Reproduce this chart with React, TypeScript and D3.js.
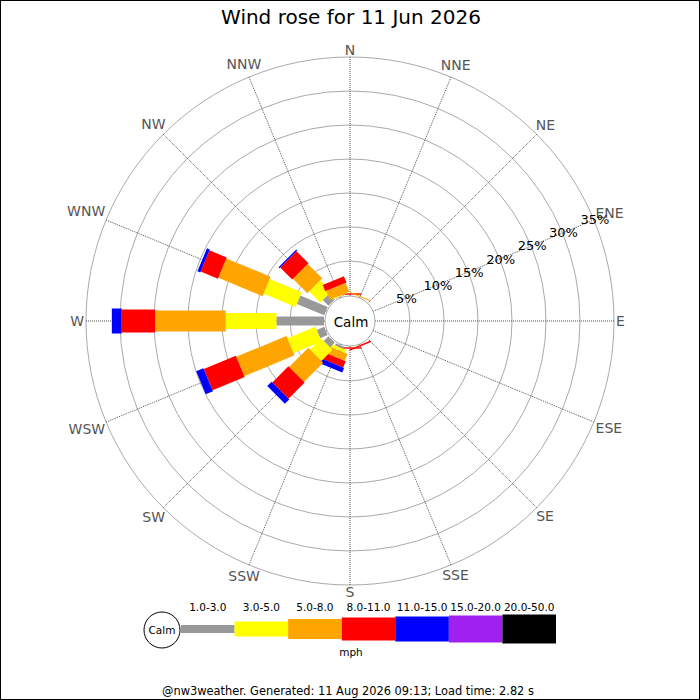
import React, { useRef, useEffect } from 'react';
import * as d3 from 'd3';

const directions = ['N', 'NNE', 'NE', 'ENE', 'E', 'ESE', 'SE', 'SSE', 'S', 'SSW', 'SW', 'WSW', 'W', 'WNW', 'NW', 'NNW'];
const speedClasses = ['1.0-3.0', '3.0-5.0', '5.0-8.0', '8.0-11.0', '11.0-15.0', '15.0-20.0', '20.0-50.0'];
const ringTicks = [5, 10, 15, 20, 25, 30, 35];

// % of time per direction (same order as directions), one list per speed class
const speed1to3 = [0, 0, 0, 0, 0, 0, 0, 0, 0, 0.35, 1.0, 1.2, 7.0, 4.35, 1.2, 0.1];
const speed3to5 = [0, 0, 0, 0, 0, 0, 0, 0, 0, 0.43, 2.3, 4.45, 7.45, 5.1, 2.3, 0.1];
const speed5to8 = [0.05, 0.15, 0, 0, 0, 0, 0, 0, 0.05, 1.1, 4.0, 8.0, 10.4, 7.05, 3.0, 1.4];
const speed8to11 = [0.2, 0, 0, 0, 0, 0, 0, 0.2, 0.2, 1.0, 3.35, 5.1, 4.9, 2.75, 2.5, 1.0];
const speed11to15 = [0, 0, 0, 0, 0, 0, 0, 0, 0, 0.73, 0.9, 1.15, 1.45, 0.45, 0.2, 0];
const speed15to20 = [0, 0, 0, 0, 0, 0, 0, 0, 0, 0, 0, 0, 0, 0, 0, 0];
const speed20to50 = [0, 0, 0, 0, 0, 0, 0, 0, 0, 0, 0, 0, 0, 0, 0, 0];

const series = [speed1to3, speed3to5, speed5to8, speed8to11, speed11to15, speed15to20, speed20to50];

const colours = ['#999999', '#ffff00', '#ffa500', '#ff0000', '#0000ff', '#a020f0', '#000000'];
const barWidths = [9, 16, 21, 23, 25, 27, 29];
const keyHeights = [8, 15, 20, 23, 25, 27, 29];

// rough DejaVu Sans advance widths (em) for the compass letters
const glyphEm: { [c: string]: number } = { N: 0.748, E: 0.632, S: 0.635, W: 0.989 };

const FONT = '"DejaVu Sans", Verdana, sans-serif';

const WindRose: React.FC = () => {
  const svgRef = useRef<SVGSVGElement>(null);

  useEffect(() => {
    d3.select(svgRef.current).selectAll('*').remove();

    const size = 700;
    const cx = 350;
    const cy = 321;
    const calmR = 25;

    const svg = d3.select(svgRef.current)
      .attr('width', size)
      .attr('height', size)
      .style('font-family', FONT);

    svg.append('rect')
      .attr('x', 0.5).attr('y', 0.5)
      .attr('width', size - 1).attr('height', size - 1)
      .attr('fill', 'white')
      .attr('stroke', 'black');

    svg.append('text')
      .attr('x', cx + 1).attr('y', 24)
      .attr('text-anchor', 'middle')
      .attr('font-size', 20)
      .text('Wind rose for 11 Jun 2026');

    const rScale = d3.scaleLinear().domain([0, 35]).range([26, 264]);
    const angle = (i: number) => (i * 22.5 * Math.PI) / 180;
    const px = (a: number, r: number) => cx + r * Math.sin(a);
    const py = (a: number, r: number) => cy - r * Math.cos(a);

    const g = svg.append('g');

    // rings
    g.selectAll('circle.ring')
      .data(ringTicks)
      .join('circle')
      .attr('class', 'ring')
      .attr('cx', cx).attr('cy', cy)
      .attr('r', d => rScale(d))
      .attr('fill', 'none')
      .attr('stroke', '#aaaaaa');

    // spokes
    g.selectAll('line.spoke')
      .data(directions)
      .join('line')
      .attr('class', 'spoke')
      .attr('x1', (d, i) => px(angle(i), calmR))
      .attr('y1', (d, i) => py(angle(i), calmR))
      .attr('x2', (d, i) => px(angle(i), rScale(35)))
      .attr('y2', (d, i) => py(angle(i), rScale(35)))
      .attr('stroke', '#555555')
      .attr('stroke-dasharray', '1,1');

    // direction labels
    const fs = 14;
    const labelR = (d: string, a: number) => {
      const w = d.split('').reduce((s, c) => s + glyphEm[c] * fs, 0);
      return 266 + (w / 2) * Math.abs(Math.sin(a)) + 5 * Math.abs(Math.cos(a));
    };
    g.selectAll('text.dir')
      .data(directions)
      .join('text')
      .attr('class', 'dir')
      .attr('x', (d, i) => px(angle(i), labelR(d, angle(i))))
      .attr('y', (d, i) => py(angle(i), labelR(d, angle(i))) - 0.5)
      .attr('text-anchor', 'middle')
      .attr('dominant-baseline', 'central')
      .attr('font-size', fs)
      .attr('fill', '#555555')
      .text(d => d);

    // stacked bars
    const table = directions.map((dir, i) => {
      const row: { [k: string]: any } = { dir };
      speedClasses.forEach((c, k) => { row[c] = series[k][i]; });
      return row;
    });
    const stacked = d3.stack<any>().keys(speedClasses)(table);

    directions.forEach((dir, i) => {
      const bar = g.append('g')
        .attr('transform', `translate(${cx},${cy}) rotate(${i * 22.5 - 90})`);
      stacked.forEach((layer, k) => {
        const [y0, y1] = layer[i];
        if (y1 - y0 <= 0) return;
        bar.append('rect')
          .attr('x', rScale(y0))
          .attr('y', -barWidths[k] / 2)
          .attr('width', rScale(y1) - rScale(y0))
          .attr('height', barWidths[k])
          .attr('fill', colours[k]);
      });
    });

    // calm circle
    g.append('circle')
      .attr('cx', cx).attr('cy', cy).attr('r', calmR)
      .attr('fill', 'white')
      .attr('stroke', '#aaaaaa');
    g.append('text')
      .attr('x', cx + 1).attr('y', cy + 1)
      .attr('text-anchor', 'middle')
      .attr('dominant-baseline', 'central')
      .attr('font-size', 13.5)
      .text('Calm');

    // ring labels along ENE
    const labelA = (67.5 * Math.PI) / 180;
    g.selectAll('text.ringlab')
      .data(ringTicks)
      .join('text')
      .attr('class', 'ringlab')
      .attr('x', d => px(labelA, rScale(d)) + 1)
      .attr('y', d => py(labelA, rScale(d)))
      .attr('text-anchor', 'middle')
      .attr('dominant-baseline', 'central')
      .attr('font-size', 13)
      .attr('fill', 'black')
      .text(d => `${d}%`);

    // key
    const keyX = d3.scaleBand().domain(speedClasses).range([181, 556]);
    const keyY = 629;
    const key = svg.append('g');
    key.selectAll('rect')
      .data(speedClasses)
      .join('rect')
      .attr('x', d => keyX(d)!)
      .attr('y', (d, k) => keyY - keyHeights[k] / 2)
      .attr('width', keyX.bandwidth())
      .attr('height', (d, k) => keyHeights[k])
      .attr('fill', (d, k) => colours[k]);
    key.selectAll('text.kl')
      .data(speedClasses)
      .join('text')
      .attr('class', 'kl')
      .attr('x', d => keyX(d)! + keyX.bandwidth() / 2)
      .attr('y', 611)
      .attr('text-anchor', 'middle')
      .attr('font-size', 10.5)
      .text(d => d);
    key.append('circle')
      .attr('cx', 162).attr('cy', 630).attr('r', 18)
      .attr('fill', 'white')
      .attr('stroke', 'black');
    key.append('text')
      .attr('x', 162).attr('y', 630)
      .attr('text-anchor', 'middle')
      .attr('dominant-baseline', 'central')
      .attr('font-size', 10.5)
      .text('Calm');
    key.append('text')
      .attr('x', 351).attr('y', 656)
      .attr('text-anchor', 'middle')
      .attr('font-size', 10.5)
      .text('mph');

    svg.append('text')
      .attr('x', 348).attr('y', 695)
      .attr('text-anchor', 'middle')
      .attr('font-size', 11.4)
      .text('@nw3weather. Generated: 11 Aug 2026 09:13; Load time: 2.82 s');
  }, []);

  return <svg ref={svgRef} style={{ position: 'absolute', left: 0, top: 0, display: 'block' }} />;
};

export default function App() {
  return <WindRose />;
}
